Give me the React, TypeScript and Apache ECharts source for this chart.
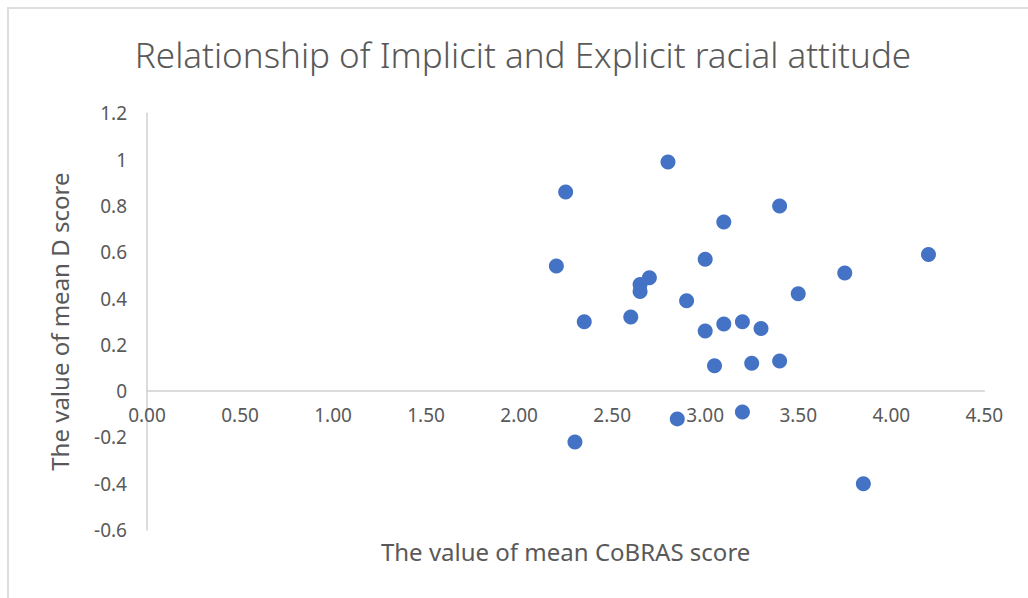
import React, { useEffect, useRef } from "react";
import * as echarts from "echarts";

const cobrasScores = [
  2.8, 2.25, 3.4, 3.1, 2.2, 3.0, 2.7, 2.65, 2.65, 2.9, 3.5, 2.35, 2.6, 3.0,
  3.1, 3.2, 3.3, 3.05, 3.25, 3.4, 3.2, 2.85, 2.3, 4.2, 3.75, 3.85,
];
const dScores = [
  0.99, 0.86, 0.8, 0.73, 0.54, 0.57, 0.49, 0.46, 0.43, 0.39, 0.42, 0.3, 0.32,
  0.26, 0.29, 0.3, 0.27, 0.11, 0.12, 0.13, -0.09, -0.12, -0.22, 0.59, 0.51,
  -0.4,
];

const titleText = "Relationship of Implicit and Explicit racial attitude";
const xName = "The value of mean CoBRAS score";
const yName = "The value of mean D score";

const FONT = "'Noto Sans', 'DejaVu Sans', sans-serif";
const TEXT = "#595959";
const AXIS = "#d0d0d0";

export default function App() {
  const ref = useRef<HTMLDivElement>(null);

  useEffect(() => {
    if (!ref.current) return;
    const chart = echarts.init(ref.current, undefined, { renderer: "svg" });
    const points = cobrasScores.map((x, i) => [x, dScores[i]]);
    chart.setOption({
      animation: false,
      backgroundColor: "#ffffff",
      title: {
        text: titleText,
        left: "center",
        top: 23,
        textStyle: {
          fontFamily: FONT,
          fontSize: 35,
          fontWeight: 300,
          color: TEXT,
        },
      },
      grid: {
        left: 138,
        right: 52.7,
        top: 104.3,
        bottom: 79,
        containLabel: false,
        outerBoundsMode: "none",
      },
      xAxis: {
        type: "value",
        min: 0,
        max: 4.5,
        interval: 0.5,
        offset: -138.9,
        name: xName,
        nameLocation: "middle",
        nameGap: 148,
        nameTextStyle: { fontFamily: FONT, fontSize: 24, color: TEXT },
        axisLine: { show: true, onZero: false, lineStyle: { color: AXIS, width: 1.5 } },
        axisTick: { show: false },
        splitLine: { show: false },
        axisLabel: {
          fontFamily: FONT,
          fontSize: 19,
          color: TEXT,
          margin: 14,
          formatter: (v: number) => v.toFixed(2),
        },
      },
      yAxis: {
        type: "value",
        min: -0.6,
        max: 1.2,
        interval: 0.2,
        name: yName,
        nameLocation: "middle",
        nameGap: 76,
        nameTextStyle: { fontFamily: FONT, fontSize: 24, color: TEXT },
        axisLine: { show: true, onZero: false, lineStyle: { color: AXIS, width: 1.5 } },
        axisTick: { show: false },
        splitLine: { show: false },
        axisLabel: {
          fontFamily: FONT,
          fontSize: 19,
          color: TEXT,
          margin: 20,
          formatter: (v: number) => String(Math.round(v * 10) / 10),
        },
      },
      series: [
        {
          type: "scatter",
          data: points,
          symbol: "circle",
          symbolSize: 15,
          itemStyle: { color: "#4472C4", opacity: 1 },
        },
      ],
    });
    return () => chart.dispose();
  }, []);

  return (
    <div
      style={{
        position: "fixed",
        left: 7,
        top: 7,
        width: 1040,
        height: 610,
        borderLeft: "2px solid #dedede",
        borderTop: "2px solid #dedede",
        background: "#fff",
      }}
    >
      <div ref={ref} style={{ width: 1028, height: 600 }} />
    </div>
  );
}
